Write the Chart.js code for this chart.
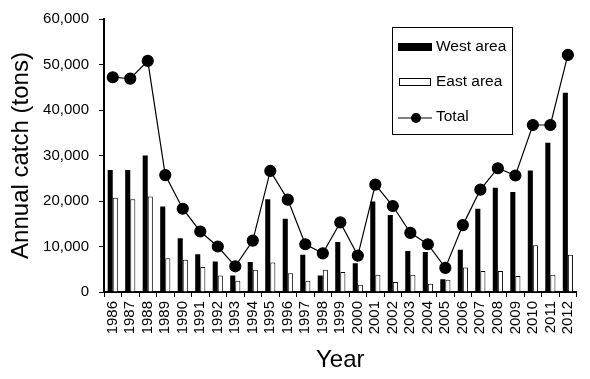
<!DOCTYPE html>
<html>
<head>
<meta charset="utf-8">
<script src="https://cdn.jsdelivr.net/npm/chart.js@4"></script>
<style>
  html, body { margin: 0; padding: 0; background: #fff; }
  #wrap { width: 590px; height: 379px; }
</style>
</head>
<body>
<div id="wrap"><canvas id="catchChart" width="590" height="379"></canvas></div>
<script>
// Data
const years = ['1986','1987','1988','1989','1990','1991','1992','1993','1994','1995','1996','1997','1998','1999',
               '2000','2001','2002','2003','2004','2005','2006','2007','2008','2009','2010','2011','2012'];
const westArea = [26800, 26800, 30000, 18800, 11800, 8300, 6700, 3600, 6600, 20400, 16100, 8200, 3600, 11000,
                  6300, 19900, 16900, 9000, 8800, 2800, 9300, 18300, 22900, 22000, 26700, 32800, 43800];
const eastArea = [20700, 20400, 21000, 7400, 7100, 5500, 3600, 2500, 4900, 6500, 4100, 2500, 4900, 4400,
                  1600, 3800, 2200, 3800, 1800, 2700, 5400, 4600, 4600, 3500, 10300, 3800, 8200];
const totalCatch = [47200, 46900, 50800, 25700, 18300, 13300, 10000, 5650, 11300, 26600, 20300, 10500, 8500, 15300,
                    8000, 23600, 18900, 13000, 10500, 5300, 14700, 22500, 27200, 25600, 36700, 36700, 52100];
const yTicks = [0, 10000, 20000, 30000, 40000, 50000, 60000];

const FONT = 'Arial, "Liberation Sans", sans-serif';

// Legend box drawn inside the plot, like the original
const boxLegend = {
  id: 'boxLegend',
  afterDraw(chart) {
    const ctx = chart.ctx;
    const ds = chart.data.datasets;
    ctx.save();
    ctx.strokeStyle = '#000';
    ctx.lineWidth = 1;
    ctx.strokeRect(392.5, 27.5, 120, 107);

    ctx.fillStyle = '#000';
    ctx.fillRect(398, 43, 34, 8);

    ctx.fillStyle = '#fff';
    ctx.fillRect(399, 78.5, 32, 7);
    ctx.strokeRect(399.5, 78.5, 31, 7);

    ctx.beginPath();
    ctx.moveTo(398, 118);
    ctx.lineTo(432, 118);
    ctx.stroke();
    ctx.beginPath();
    ctx.arc(416, 118, 5, 0, Math.PI * 2);
    ctx.fillStyle = '#000';
    ctx.fill();

    ctx.font = '15.5px ' + FONT;
    ctx.textBaseline = 'middle';
    ctx.fillStyle = '#000';
    ctx.fillText(ds[1].label, 436, 47);
    ctx.fillText(ds[2].label, 436, 82);
    ctx.fillText(ds[0].label, 436, 117);
    ctx.restore();
  }
};

const ctx = document.getElementById('catchChart').getContext('2d');
new Chart(ctx, {
  type: 'bar',
  data: {
    labels: years,
    datasets: [
      {
        type: 'line',
        label: 'Total',
        data: totalCatch,
        borderColor: '#000',
        borderWidth: 1.2,
        pointRadius: 5.5,
        pointBackgroundColor: '#000',
        pointBorderColor: '#000',
        tension: 0,
        order: 0
      },
      {
        label: 'West area',
        data: westArea,
        backgroundColor: '#000',
        borderWidth: 0,
        categoryPercentage: 0.58,
        barPercentage: 1,
        order: 1
      },
      {
        label: 'East area',
        data: eastArea,
        backgroundColor: '#fff',
        borderColor: '#000',
        borderWidth: 1,
        categoryPercentage: 0.58,
        barPercentage: 1,
        order: 2
      }
    ]
  },
  options: {
    responsive: false,
    animation: false,
    layout: { padding: { top: 15, right: 3, left: 0, bottom: 0 } },
    plugins: { legend: { display: false }, tooltip: { enabled: false } },
    scales: {
      x: {
        afterFit: s => { s.height = 87; },
        grid: { display: true, drawOnChartArea: false, drawTicks: true, tickLength: 5, color: '#000', lineWidth: 1, offset: true },
        border: { display: true, color: '#000', width: 2 },
        ticks: {
          color: '#000', font: { family: FONT, size: 15 },
          minRotation: 90, maxRotation: 90, autoSkip: false, padding: 4
        },
        title: { display: true, text: 'Year', color: '#000', font: { family: FONT, size: 24 }, padding: 4 }
      },
      y: {
        min: 0, max: 60000,
        afterFit: s => { s.width = 104; },
        afterBuildTicks: s => { s.ticks = yTicks.map(v => ({ value: v })); },
        grid: { display: true, drawOnChartArea: false, drawTicks: true, tickLength: 5, color: '#000', lineWidth: 1 },
        border: { display: true, color: '#000', width: 2 },
        ticks: {
          color: '#000', font: { family: FONT, size: 15 }, padding: 10,
          callback: v => v.toLocaleString('en-US')
        },
        title: { display: true, text: 'Annual catch (tons)', color: '#000', font: { family: FONT, size: 24 }, padding: 7 }
      }
    }
  },
  plugins: [boxLegend]
});
</script>
</body>
</html>
